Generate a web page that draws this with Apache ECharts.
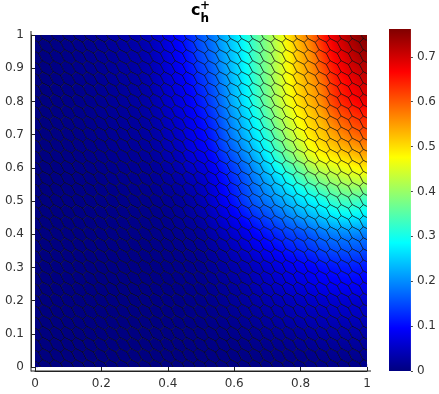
<!DOCTYPE html>
<html><head><meta charset="utf-8">
<script src="https://cdn.jsdelivr.net/npm/echarts@6/dist/echarts.min.js"></script>
<style>html,body{margin:0;padding:0;background:#fff}#c{width:439px;height:394px}</style></head>
<body><div id="c"></div>
<script>
var colorbarMax = 0.762;
// c_h^+ at the centre of each mesh cell:
// rows run from y=1 down to y=0, columns from x=0 to x=1, step 1/30
var fieldRows = [
[0,.002,.005,.008,.011,.014,.018,.022,.027,.032,.04,.055,.075,.1,.125,.16,.185,.225,.26,.30,.35,.395,.445,.50,.545,.585,.645,.685,.715,.745,.762],
[0,.002,.005,.008,.011,.014,.017,.021,.026,.031,.038,.052,.072,.095,.119,.153,.178,.218,.253,.292,.342,.388,.436,.49,.535,.575,.632,.674,.703,.732,.748],
[0,.002,.005,.007,.01,.013,.017,.02,.025,.03,.036,.05,.068,.09,.113,.146,.172,.212,.248,.288,.34,.386,.434,.485,.53,.565,.62,.665,.69,.72,.735],
[0,.002,.005,.007,.01,.013,.016,.02,.024,.028,.035,.047,.065,.085,.108,.138,.165,.205,.245,.285,.335,.383,.433,.482,.525,.56,.607,.652,.68,.705,.721],
[0,.002,.004,.007,.01,.012,.016,.019,.023,.027,.033,.045,.062,.08,.102,.13,.158,.198,.24,.28,.33,.38,.43,.477,.518,.55,.59,.64,.665,.69,.707],
[0,.002,.004,.006,.009,.012,.015,.018,.022,.026,.031,.042,.058,.075,.096,.122,.151,.191,.235,.275,.325,.375,.425,.471,.512,.542,.58,.63,.655,.678,.694],
[0,.002,.004,.006,.009,.011,.014,.018,.021,.025,.03,.04,.055,.07,.09,.115,.145,.185,.23,.27,.32,.37,.42,.465,.505,.535,.57,.62,.645,.665,.68],
[0,.002,.004,.006,.008,.011,.014,.017,.02,.023,.028,.037,.051,.065,.085,.107,.135,.175,.218,.257,.305,.355,.405,.45,.49,.52,.55,.595,.62,.64,.652],
[0,.001,.004,.005,.008,.01,.013,.016,.019,.022,.026,.034,.047,.06,.08,.1,.126,.165,.206,.245,.29,.34,.39,.435,.475,.508,.532,.57,.595,.615,.628],
[0,.001,.003,.005,.007,.01,.012,.015,.018,.021,.024,.031,.043,.055,.076,.094,.118,.155,.195,.232,.275,.32,.37,.418,.458,.495,.517,.545,.57,.59,.603],
[0,.001,.003,.005,.007,.009,.011,.014,.017,.019,.022,.028,.039,.05,.072,.088,.11,.145,.178,.215,.255,.3,.35,.395,.435,.475,.50,.52,.54,.555,.57],
[0,.001,.003,.004,.006,.008,.01,.013,.015,.017,.02,.025,.034,.044,.064,.078,.098,.13,.16,.195,.232,.275,.325,.37,.41,.45,.475,.49,.505,.52,.535],
[0,.001,.002,.004,.005,.007,.009,.011,.013,.015,.017,.021,.029,.037,.053,.066,.085,.115,.143,.175,.21,.25,.295,.335,.37,.41,.435,.45,.465,.478,.49],
[0,.001,.002,.003,.005,.006,.008,.01,.012,.013,.015,.018,.024,.031,.043,.055,.075,.103,.13,.16,.192,.225,.26,.3,.335,.365,.39,.41,.425,.435,.44],
[0,.001,.002,.003,.004,.005,.007,.008,.01,.011,.012,.015,.019,.025,.035,.047,.067,.094,.12,.15,.178,.205,.235,.265,.295,.32,.345,.365,.38,.385,.38],
[0,.001,.002,.003,.004,.005,.006,.007,.008,.009,.009,.012,.015,.02,.028,.04,.06,.085,.11,.14,.165,.185,.21,.235,.26,.28,.30,.325,.335,.335,.325],
[0,.001,.002,.002,.003,.004,.005,.006,.007,.008,.008,.01,.013,.017,.024,.033,.05,.071,.093,.118,.142,.16,.182,.205,.227,.245,.265,.285,.295,.295,.287],
[0,.001,.001,.002,.003,.003,.004,.005,.006,.007,.007,.009,.011,.015,.02,.026,.041,.058,.076,.096,.118,.135,.153,.172,.188,.205,.222,.238,.245,.245,.238],
[0,.001,.001,.002,.002,.003,.004,.005,.005,.006,.006,.008,.01,.013,.016,.02,.032,.045,.06,.075,.095,.11,.125,.14,.15,.165,.18,.19,.195,.195,.19],
[0,0,.001,.002,.002,.003,.003,.004,.004,.005,.005,.007,.008,.011,.014,.017,.026,.037,.05,.063,.08,.094,.106,.12,.13,.142,.155,.163,.167,.167,.163],
[0,0,.001,.001,.002,.002,.003,.003,.004,.004,.005,.006,.007,.009,.012,.014,.022,.03,.041,.051,.064,.076,.088,.1,.11,.118,.13,.136,.14,.14,.136],
[0,0,.001,.001,.001,.002,.002,.003,.003,.004,.004,.005,.006,.008,.01,.012,.018,.025,.033,.04,.05,.06,.07,.08,.09,.095,.105,.11,.115,.115,.11],
[0,0,.001,.001,.001,.002,.002,.002,.003,.003,.004,.004,.005,.007,.009,.011,.015,.021,.028,.034,.043,.052,.06,.07,.077,.083,.091,.095,.1,.1,.095],
[0,0,0,.001,.001,.001,.002,.002,.002,.003,.003,.004,.005,.006,.008,.009,.013,.018,.023,.029,.036,.043,.05,.059,.064,.07,.076,.08,.083,.083,.08],
[0,0,0,.001,.001,.001,.001,.002,.002,.002,.003,.003,.004,.005,.007,.008,.011,.015,.02,.025,.03,.035,.04,.045,.05,.054,.057,.06,.062,.062,.06],
[0,0,0,.001,.001,.001,.001,.001,.002,.002,.002,.003,.003,.004,.006,.007,.009,.012,.016,.02,.024,.028,.032,.037,.041,.044,.047,.05,.051,.052,.05],
[0,0,0,0,.001,.001,.001,.001,.001,.001,.002,.002,.003,.004,.005,.005,.007,.01,.012,.015,.019,.022,.025,.029,.032,.034,.037,.039,.04,.041,.04],
[0,0,0,0,0,.001,.001,.001,.001,.001,.001,.002,.002,.003,.004,.004,.006,.007,.009,.011,.013,.016,.018,.02,.023,.025,.027,.029,.03,.03,.03],
[0,0,0,0,0,0,.001,.001,.001,.001,.001,.001,.002,.002,.003,.003,.004,.005,.006,.007,.009,.011,.012,.014,.016,.017,.019,.02,.021,.021,.021],
[0,0,0,0,0,0,0,0,.001,.001,.001,.001,.001,.001,.002,.002,.003,.003,.004,.005,.005,.006,.007,.008,.009,.01,.011,.012,.012,.013,.013],
[0,0,0,0,0,0,0,0,0,0,0,0,.001,.001,.001,.001,.002,.002,.002,.003,.003,.004,.004,.005,.005,.006,.006,.007,.007,.008,.008]
];

function clamp01(v){return Math.max(0,Math.min(1,v));}
function jet(v){
  var t=clamp01(v/colorbarMax);
  var r=clamp01(1.5-Math.abs(4*t-3)),g=clamp01(1.5-Math.abs(4*t-2)),b=clamp01(1.5-Math.abs(4*t-1));
  return 'rgb('+Math.round(r*255)+','+Math.round(g*255)+','+Math.round(b*255)+')';
}
var meshN=fieldRows.length-1, meshStep=1/meshN;
// One cell around each mesh node; corners in units of the mesh step (x right, y up)
var hexCorners=[[1/3,1/3],[2/3,-1/3],[1/3,-2/3],[-1/3,-1/3],[-2/3,1/3],[-1/3,2/3]];
function cell(r,c){
  r=Math.max(0,Math.min(meshN,r));c=Math.max(0,Math.min(meshN,c));
  return fieldRows[r][c];
}
var hexData=[];
fieldRows.forEach(function(row,r){
  row.forEach(function(v,c){
    // local change per step, used only to shade inside the cell as the reference does
    var dx=(cell(r,c+1)-cell(r,c-1))/2, dy=(cell(r-1,c)-cell(r+1,c))/2;
    hexData.push([c*meshStep,1-r*meshStep,v,dx,dy]);
  });
});
function renderHex(params,api){
  var x=api.value(0),y=api.value(1),v=api.value(2),dx=api.value(3),dy=api.value(4);
  var pts=hexCorners.map(function(k){return api.coord([x+k[0]*meshStep,y+k[1]*meshStep]);});
  var len=Math.sqrt(dx*dx+dy*dy), fill=jet(v), reach=0.5;
  if(len>1e-6){
    var ux=dx/len, uy=dy/len;
    var a=api.coord([x-ux*reach*meshStep,y-uy*reach*meshStep]);
    var b=api.coord([x+ux*reach*meshStep,y+uy*reach*meshStep]);
    fill=new echarts.graphic.LinearGradient(a[0],a[1],b[0],b[1],[
      {offset:0,color:jet(v-len*reach)},
      {offset:0.5,color:jet(v)},
      {offset:1,color:jet(v+len*reach)}],true);
  }
  return {type:'polygon',shape:{points:pts},style:{fill:fill,stroke:'rgba(0,0,0,0.55)',lineWidth:1}};
}
var barStops=[];
for(var s=0;s<=16;s++)barStops.push({offset:s/16,color:jet(colorbarMax*(1-s/16))});

var textColor='#333';
var font='DejaVu Sans';
var chart=echarts.init(document.getElementById('c'),null,{renderer:'canvas'});
function tickFmt(v){return String(Math.round(v*10)/10);}
chart.setOption({
  animation:false,
  backgroundColor:'#fff',
  title:[
    {text:'c',left:191,top:3,padding:0,textStyle:{fontFamily:font,fontWeight:'bold',fontSize:16,color:'#000'}},
    {text:'+',left:200,top:0,padding:0,textStyle:{fontFamily:font,fontWeight:'bold',fontSize:12,color:'#000'}},
    {text:'h',left:200.5,top:13,padding:0,textStyle:{fontFamily:font,fontWeight:'bold',fontSize:12,color:'#000'}}
  ],
  grid:[
    {left:35,top:35,width:332,height:332},
    {left:389,top:29,width:22,height:342}
  ],
  xAxis:[
    {type:'value',gridIndex:0,min:0,max:1,interval:0.2,position:'bottom',offset:4,
     axisLine:{show:true,onZero:false,lineStyle:{color:'#222',width:1}},
     axisTick:{show:true,inside:true,length:4,lineStyle:{color:'#222'}},
     axisLabel:{margin:7,color:textColor,fontFamily:font,fontSize:12,formatter:tickFmt,hideOverlap:false},splitLine:{show:false}},
    {type:'value',gridIndex:0,min:0,max:1,interval:0.2,position:'top',
     axisLine:{show:false},axisTick:{show:true,length:3,lineStyle:{color:'#ddd'}},axisLabel:{show:false},splitLine:{show:false}},
    {type:'category',gridIndex:1,data:['c'],show:false}
  ],
  yAxis:[
    {type:'value',gridIndex:0,min:0,max:1,interval:0.1,position:'left',offset:4,
     axisLine:{show:true,onZero:false,lineStyle:{color:'#222',width:1}},
     axisTick:{show:true,inside:true,length:4,lineStyle:{color:'#222'}},
     axisLabel:{margin:7,color:textColor,fontFamily:font,fontSize:12,formatter:tickFmt,hideOverlap:false},splitLine:{show:false}},
    {type:'value',gridIndex:0,min:0,max:1,interval:0.1,position:'right',
     axisLine:{show:false},axisTick:{show:true,length:3,lineStyle:{color:'#ddd'}},axisLabel:{show:false},splitLine:{show:false}},
    {type:'value',gridIndex:1,min:0,max:colorbarMax,interval:0.1,position:'right',
     axisLine:{show:false},axisTick:{show:true,length:2,lineStyle:{color:'#444'}},
     axisLabel:{margin:6,color:textColor,fontFamily:font,fontSize:12,formatter:tickFmt,showMaxLabel:false},splitLine:{show:false}}
  ],
  graphic:[
    {type:'line',silent:true,shape:{x1:31,y1:31,x2:31,y2:371.5},style:{stroke:'#222',lineWidth:1}},
    {type:'line',silent:true,shape:{x1:31,y1:371,x2:371,y2:371},style:{stroke:'#222',lineWidth:1}}
  ],
  series:[
    {type:'custom',xAxisIndex:0,yAxisIndex:0,clip:true,renderItem:renderHex,data:hexData,silent:true,encode:{x:0,y:1}},
    {type:'bar',xAxisIndex:2,yAxisIndex:2,data:[colorbarMax],barWidth:'100%',silent:true,
     itemStyle:{color:new echarts.graphic.LinearGradient(0,0,0,1,barStops)}}
  ]
});
</script></body></html>
